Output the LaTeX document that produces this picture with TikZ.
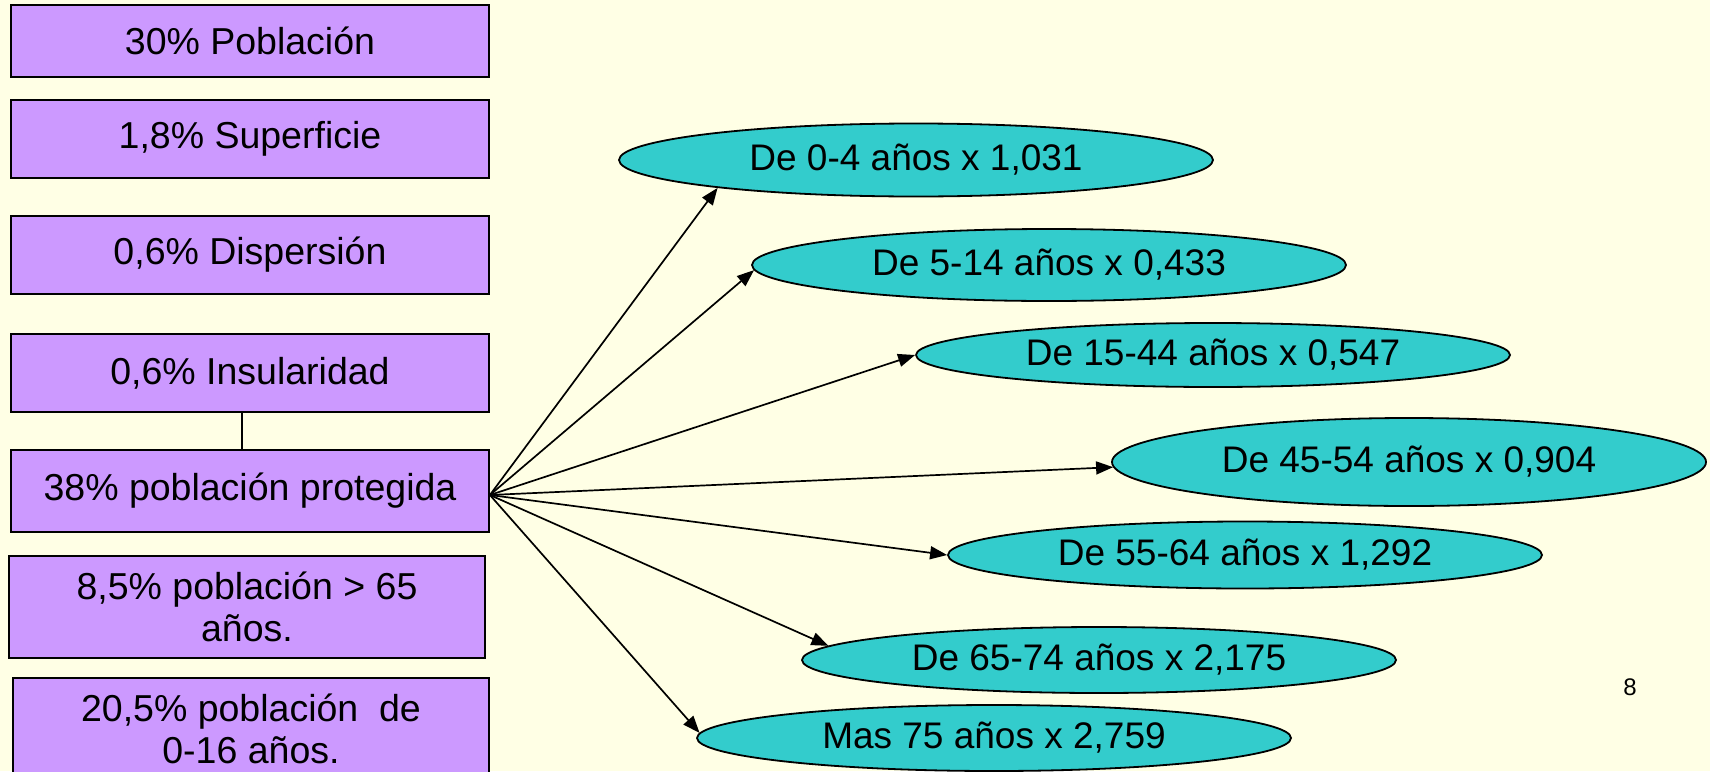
\documentclass[tikz,border=0pt]{standalone}
\usepackage{fontspec}
\setmainfont{Liberation Sans}
\usetikzlibrary{shapes,arrows.meta,positioning}
\definecolor{fondo}{HTML}{FFFFE5}
\definecolor{lila}{HTML}{CC99FF}
\definecolor{turquesa}{HTML}{33CCCC}

\begin{document}
\begin{tikzpicture}[x=1pt, y=-1pt,
    caja/.style={draw, rectangle, fill=lila, line width=1.8pt, minimum width=478pt, minimum height=78pt, align=center, font=\fontsize{37.5}{42}\selectfont},
    ovalo/.style={draw, ellipse, fill=turquesa, line width=1.8pt, minimum width=594pt, minimum height=67pt, inner sep=0pt, font=\fontsize{37}{42}\selectfont},
    flecha/.style={-{Triangle[length=17pt,width=13pt]}, line width=1.7pt}]
        % fondo de la diapositiva
        \fill[fondo] (0,0) rectangle (1710,771);
        \clip (0,0) rectangle (1710,771);

        % Cajas de la izquierda
        \node[caja, minimum height=72pt] (pob) at (250,41) {30\% Población};
        \node[caja] (sup) at (250,139) {1,8\% Superficie};
        \node[caja] (dis) at (250,255) {0,6\% Dispersión};
        \node[caja] (ins) at (250,373) {0,6\% Insularidad};
        \node[caja, minimum height=82pt] (prot) at (250,491) {38\% población protegida};
        \node[caja, minimum width=476pt, minimum height=102pt] (may) at (247,607) {8,5\% población > 65\\años.};
        \node[caja, minimum width=476pt, minimum height=102pt] (nin) at (251,729) {20,5\% población\ \ de\\0-16 años.};

        % Ovalos de la derecha
        \node[ovalo, minimum height=73pt] (e1) at (916,160) {De 0-4 años x 1,031};
        \node[ovalo, minimum height=72pt] (e2) at (1049,265) {De 5-14 años x 0,433};
        \node[ovalo, minimum height=64pt] (e3) at (1213,355) {De 15-44 años x 0,547};
        \node[ovalo, minimum height=88pt] (e4) at (1409,462) {De 45-54 años x 0,904};
        \node[ovalo] (e5) at (1245,555) {De 55-64 años x 1,292};
        \node[ovalo, minimum height=66pt] (e6) at (1099,660) {De 65-74 años x 2,175};
        \node[ovalo, minimum height=66pt] (e7) at (994,738) {Mas 75 años x 2,759};

        \node[font=\fontsize{24}{28}\selectfont] (pag) at (1630,687) {8};

        % Conexiones
        \draw[line width=1.7pt] ([xshift=-8pt]ins.south) -- ([xshift=-8pt]prot.north);
        \coordinate (origen) at ([yshift=-4pt]prot.east);
        \draw[flecha] (origen) -- (e1.188);
        \draw[flecha] (origen) -- (e2.181);
        \draw[flecha] (origen) -- (e3.west);
        \draw[flecha] (origen) -- (e4.181);
        \draw[flecha] (origen) -- (e5.west);
        \draw[flecha] (origen) -- (e6.177.5);
        \draw[flecha] (origen) -- (e7.179);
\end{tikzpicture}
\end{document}
